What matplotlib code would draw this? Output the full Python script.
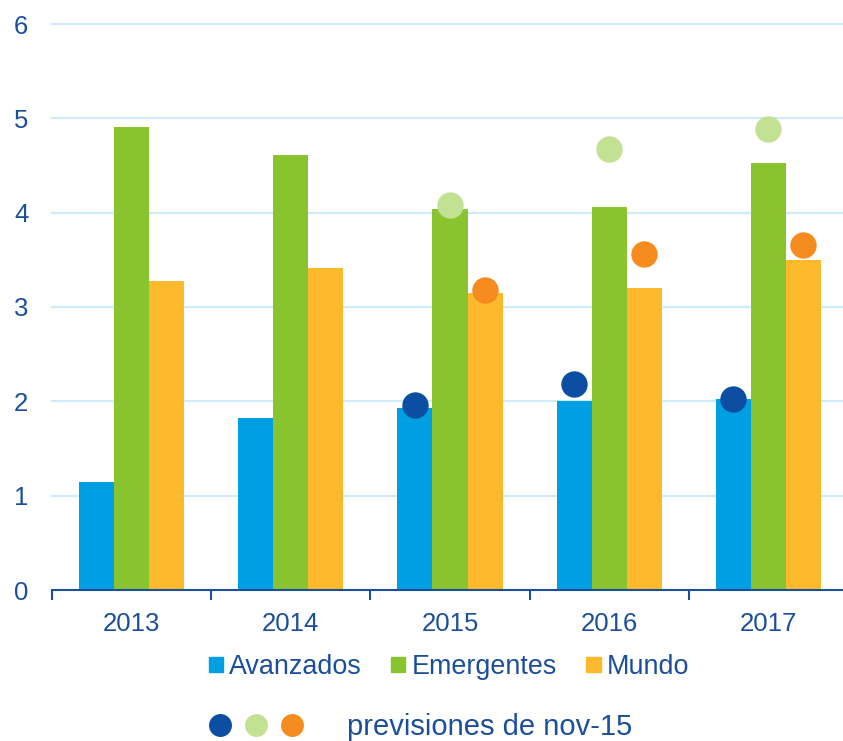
import matplotlib
matplotlib.use("Agg")
import matplotlib.pyplot as plt
import numpy as np
from matplotlib.patches import Patch
from matplotlib.lines import Line2D
from matplotlib.legend_handler import HandlerTuple

years = ["2013", "2014", "2015", "2016", "2017"]
avanzados = [1.15, 1.82, 1.93, 2.00, 2.03]
emergentes = [4.91, 4.61, 4.04, 4.06, 4.53]
mundo = [3.28, 3.41, 3.15, 3.20, 3.50]

prev_years_idx = [2, 3, 4]
prev_avanzados = [1.96, 2.18, 2.03]
prev_emergentes = [4.08, 4.67, 4.89]
prev_mundo = [3.18, 3.56, 3.66]

series_labels = ["Avanzados", "Emergentes", "Mundo"]
prev_label = "previsiones de nov-15"
yticks = [0, 1, 2, 3, 4, 5, 6]

C_AV, C_EM, C_MU = "#009FE3", "#89C42F", "#FDB92C"
C_PAV, C_PEM, C_PMU = "#0B4EA2", "#C2E193", "#F68B1F"
TXT = "#1B4F9C"
GRID = "#CDEBF8"

plt.rcParams['font.family'] = ['Liberation Sans', 'DejaVu Sans']

fig = plt.figure(figsize=(8.43, 7.41), dpi=100)
ax = fig.add_axes([52/843, 151/741, 796/843, 566/741])

x = np.arange(len(years))
w = 0.22
ax.bar(x - w, avanzados, w, color=C_AV, zorder=2)
ax.bar(x, emergentes, w, color=C_EM, zorder=2)
ax.bar(x + w, mundo, w, color=C_MU, zorder=2)

px = np.array(prev_years_idx)
ms = 19
ax.plot(px - w, prev_avanzados, 'o', color=C_PAV, ms=ms, mew=0, zorder=3, clip_on=False)
ax.plot(px, prev_emergentes, 'o', color=C_PEM, ms=ms, mew=0, zorder=3, clip_on=False)
ax.plot(px + w, prev_mundo, 'o', color=C_PMU, ms=ms, mew=0, zorder=3, clip_on=False)

ax.set_xlim(-0.5, len(years) - 0.5)
ax.set_ylim(0, 6)
ax.set_yticks(yticks)
for t in yticks[1:]:
    ax.axhline(t, color=GRID, lw=1.5, zorder=1, clip_on=False)

for s in ["top", "right", "left"]:
    ax.spines[s].set_visible(False)
ax.spines["bottom"].set_color(TXT)
ax.spines["bottom"].set_linewidth(1.5)

ax.set_xticks(x)
ax.set_xticklabels(years)
ax.set_xticks(np.arange(-0.5, len(years), 1.0), minor=True)
ax.tick_params(axis='x', which='major', length=0, pad=16, labelsize=18.5, labelcolor=TXT)
ax.tick_params(axis='x', which='minor', length=7, width=1.5, color=TXT, direction='out')
ax.tick_params(axis='y', length=0, pad=17, labelsize=18.5, labelcolor=TXT)
for lbl in ax.get_yticklabels():
    lbl.set_horizontalalignment('right')

handles = [Patch(color=c) for c in (C_AV, C_EM, C_MU)]
fig.legend(handles, series_labels, loc='center', bbox_to_anchor=(449/843, 1 - 667/741),
           ncol=3, frameon=False, fontsize=19.4, handlelength=0.52, handleheight=0.5,
           handletextpad=0.23, columnspacing=1.1, labelcolor=TXT)

dots = tuple(Line2D([], [], marker='o', ls='none', color=c, ms=16.5, mew=0) for c in (C_PAV, C_PEM, C_PMU))
fig.legend([dots], [prev_label], loc='center', bbox_to_anchor=(420/843, 1 - 727/741),
           frameon=False, fontsize=21, handlelength=3.29, handletextpad=1.47,
           handler_map={tuple: HandlerTuple(ndivide=None, pad=0.45)}, labelcolor=TXT)

fig.savefig("out.png", dpi=100)
